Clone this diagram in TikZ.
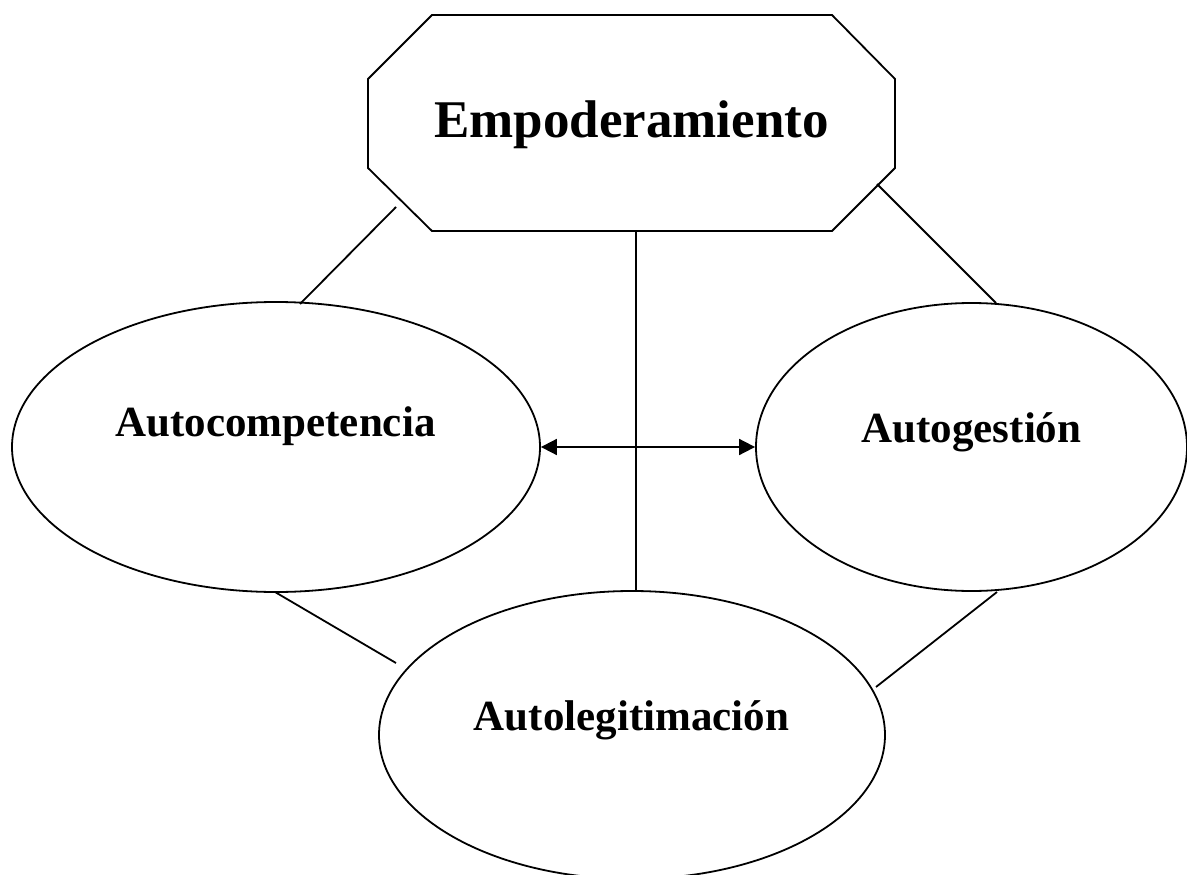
\documentclass[tikz,border=0pt]{standalone}
\usepackage{fontspec}
\setmainfont{Liberation Serif}
\usetikzlibrary{shapes.geometric,arrows.meta}
\tikzset{
  outline/.style={draw=black,line width=1.8pt},
  bubble/.style={outline,ellipse,inner sep=0pt},
  lbl/.style={anchor=base,inner sep=0pt,font=\bfseries\fontsize{43}{50}\selectfont},
  biglbl/.style={anchor=base,inner sep=0pt,font=\bfseries\fontsize{53}{60}\selectfont},
  link/.style={draw=black,line width=1.8pt},
  dblarrow/.style={link,{Triangle[length=16pt,width=16pt]}-{Triangle[length=16pt,width=16pt]}}
}
\begin{document}
\begin{tikzpicture}[x=1pt,y=-1pt]
\useasboundingbox (0,0) rectangle (1187,875);
\fill[white] (0,0) rectangle (1187,875);
% octagon corners
\coordinate (o1) at (432,15);
\coordinate (o2) at (832,15);
\coordinate (o3) at (895,79);
\coordinate (o4) at (895,168);
\coordinate (o5) at (832,231);
\coordinate (o6) at (432,231);
\coordinate (o7) at (368,168);
\coordinate (o8) at (368,79);
\draw[outline,line join=miter] (o1) -- (o2) -- (o3) -- (o4) -- (o5) -- (o6) -- (o7) -- (o8) -- cycle;
\node[biglbl] (emp) at (631.5,137) {Empoderamiento};
% ellipses
\node[bubble,minimum width=528pt,minimum height=290pt] (comp) at (276,447) {};
\node[bubble,minimum width=431pt,minimum height=288pt] (gest) at (971.5,447) {};
\node[bubble,minimum width=506pt,minimum height=288pt] (legit) at (632,735) {};
\node[lbl] (compt) at (275.5,436) {Autocompetencia};
\node[lbl] (gestt) at (971.5,442) {Autogestión};
\node[lbl] (legitt) at (631.5,730) {Autolegitimación};
% connector ends
\coordinate (a1) at (396,207);
\coordinate (a2) at (300,304);
\coordinate (b1) at (877,184);
\coordinate (b2) at (996,303);
\coordinate (v1) at (636,231);
\coordinate (v2) at (636,592);
\coordinate (c1) at (275,592);
\coordinate (c2) at (396,663);
\coordinate (d1) at (997,592);
\coordinate (d2) at (876,687);
\draw[link] (a1) -- (a2);
\draw[link] (b1) -- (b2);
\draw[link] (v1) -- (v2);
\draw[link] (c1) -- (c2);
\draw[link] (d1) -- (d2);
\draw[dblarrow] (comp.east) -- (gest.west);
\end{tikzpicture}
\end{document}
